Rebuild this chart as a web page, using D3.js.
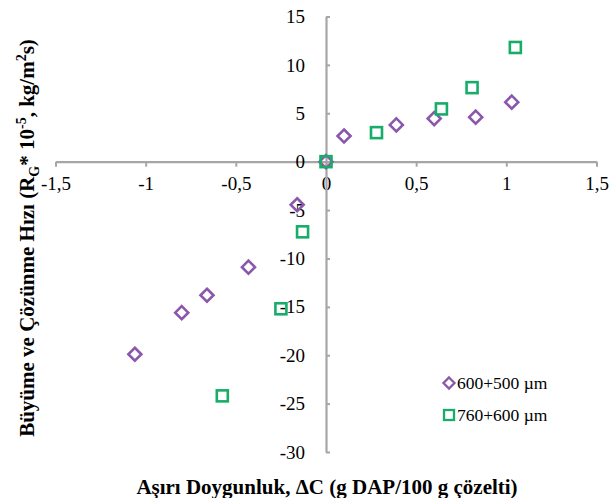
<!DOCTYPE html>
<html><head><meta charset="utf-8">
<script src="https://cdn.jsdelivr.net/npm/d3@7"></script>
<style>body{margin:0;background:#fff}svg{display:block}</style>
</head><body>
<svg id="c" width="615" height="498"></svg>
<script>
const seriesNames = ["600+500 µm", "760+600 µm"];
const s1x = [0, 0.10, 0.39, 0.60, 0.83, 1.03, -0.16, -0.43, -0.66, -0.80, -1.06];
const s1y = [0, 2.65, 3.8, 4.45, 4.6, 6.15, -4.45, -10.9, -13.8, -15.6, -19.9];
const s2x = [0, 0.28, 0.64, 0.81, 1.05, -0.13, -0.25, -0.575];
const s2y = [0, 3.0, 5.45, 7.65, 11.8, -7.25, -15.2, -24.2];
const xTicks = [-1.5, -1, -0.5, 0, 0.5, 1, 1.5];
const yTicks = [15, 10, 5, 0, -5, -10, -15, -20, -25, -30];

const svg = d3.select("#c");
const x = d3.scaleLinear().domain([-1.5, 1.5]).range([55.5, 596.5]);
const y = d3.scaleLinear().domain([-30, 15]).range([452, 16.5]);
const fmt = d => String(d).replace(".", ",");
const axisCol = "#a6a6a6";
const font = "'Liberation Serif', 'Times New Roman', serif";

// X axis at y=0
const gx = svg.append("g").attr("transform", `translate(0,${y(0)})`)
  .call(d3.axisBottom(x).tickValues(xTicks).tickFormat(fmt).tickSize(5).tickPadding(10).tickSizeOuter(0));
// Y axis at x=0
const gy = svg.append("g").attr("transform", `translate(${x(0)},0)`)
  .call(d3.axisRight(y).tickValues(yTicks).tickSize(4).tickSizeOuter(0));
gy.selectAll("text").remove();
[gx, gy].forEach(g => {
  g.select(".domain").attr("stroke", axisCol).attr("stroke-width", 2.2);
  g.selectAll(".tick line").attr("stroke", axisCol).attr("stroke-width", 2);
});
gx.selectAll("text").attr("font-family", font).attr("font-size", 19).attr("fill", "#000");
// y labels on the left of the axis
svg.append("g").selectAll("text").data(yTicks).join("text")
  .attr("x", x(0) - 21).attr("y", d => y(d)).attr("dy", "0.35em")
  .attr("text-anchor", "end").attr("font-family", font).attr("font-size", 19)
  .text(d => d);

const purple = "#8b57ab", green = "#17ad69";
const s1 = s1x.map((v, i) => [v, s1y[i]]);
const s2 = s2x.map((v, i) => [v, s2y[i]]);
const diamond = (cx, cy, r) => `M${cx},${cy - r}L${cx + r},${cy}L${cx},${cy + r}L${cx - r},${cy}Z`;

svg.append("g").selectAll("path").data(s1).join("path")
  .attr("d", d => diamond(x(d[0]), y(d[1]), 6.5))
  .attr("fill", "none").attr("stroke", purple).attr("stroke-width", 2.6);
svg.append("g").selectAll("rect").data(s2).join("rect")
  .attr("x", d => x(d[0]) - 5.5).attr("y", d => y(d[1]) - 5.5)
  .attr("width", 11).attr("height", 11)
  .attr("fill", "none").attr("stroke", green).attr("stroke-width", 2.6);

// Legend
const lg = svg.append("g");
lg.append("path").attr("d", diamond(449, 383, 5.5)).attr("fill", "none").attr("stroke", purple).attr("stroke-width", 2.3);
lg.append("rect").attr("x", 444).attr("y", 410).attr("width", 10).attr("height", 10)
  .attr("fill", "none").attr("stroke", green).attr("stroke-width", 2.3);
lg.selectAll("text").data(seriesNames).join("text")
  .attr("x", 457).attr("y", (d, i) => 383 + i * 32).attr("dy", "0.35em")
  .attr("font-family", font).attr("font-size", 17.5).text(d => d);

// X title
svg.append("text").attr("x", 327).attr("y", 494).attr("text-anchor", "middle")
  .attr("font-family", font).attr("font-size", 21).attr("font-weight", "bold")
  .text("Aşırı Doygunluk, ΔC (g DAP/100 g çözelti)");

// Y title
const yt = svg.append("text").attr("transform", "translate(34,238) rotate(-90)")
  .attr("text-anchor", "middle").attr("font-family", font).attr("font-size", 21).attr("font-weight", "bold");
yt.append("tspan").text("Büyüme ve Çözünme Hızı (R");
yt.append("tspan").attr("font-size", 14).attr("dy", 5).text("G");
yt.append("tspan").attr("dy", -5).text("*");
yt.append("tspan").text(" 10");
yt.append("tspan").attr("font-size", 14).attr("dy", -8).text("-5");
yt.append("tspan").attr("dy", 8).text(", kg/m");
yt.append("tspan").attr("font-size", 14).attr("dy", -8).text("2");
yt.append("tspan").attr("dy", 8).text("s)");
</script>
</body></html>
